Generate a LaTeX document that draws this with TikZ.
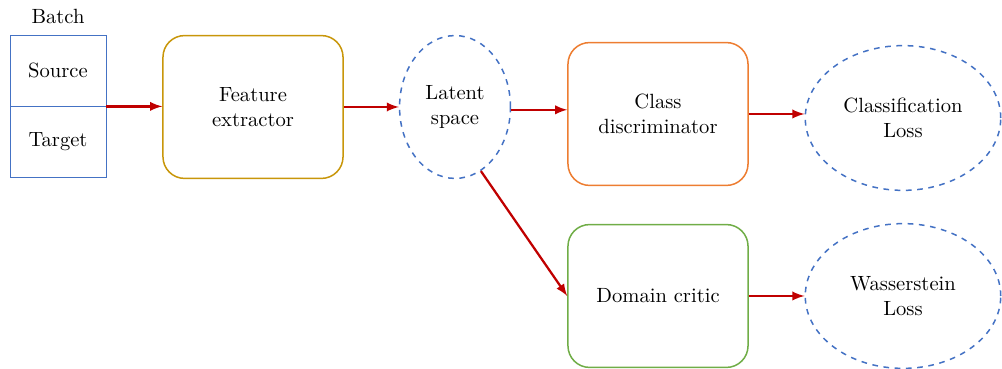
\documentclass[11pt,tikz,border=0pt]{standalone}
\usepackage{amsmath, amssymb}
\usepackage{tikz}
\usetikzlibrary{shapes.geometric}

\definecolor{batchblue}{HTML}{4472C4}
\definecolor{featgold}{HTML}{C8960A}
\definecolor{classorange}{HTML}{ED7D31}
\definecolor{criticgreen}{HTML}{70AD47}
\definecolor{arrowred}{HTML}{C00000}

\begin{document}
\begin{tikzpicture}[x=0.532pt, y=-0.532pt,
    cell/.style={draw=batchblue, minimum width=51pt, minimum height=37.8pt, inner sep=0pt},
    block/.style={draw, thick, rounded corners=11.5pt, minimum width=95.8pt, minimum height=76pt, align=center},
    cloud/.style={draw=batchblue, thick, dashed, ellipse, inner sep=0pt, align=center},
    flow/.style={draw=arrowred, very thick, -latex}]
    \useasboundingbox (0,0) rectangle (1002,369);

    % batch of source and target samples
    \node (batch) at (58,16) {Batch};
    \node[cell] (source) at (58,70.5) {Source};
    \node[cell] (target) at (58,142) {Target};

    \node[block, draw=featgold] (feat) at (253,107) {Feature\\extractor};
    \node[cloud, minimum width=59pt, minimum height=76pt] (latent) at (455,107) {Latent\\space};
    \node[block, draw=classorange] (class) at (658,114) {Class\\discriminator};
    \node[cloud, minimum width=104pt, minimum height=77pt] (closs) at (903,118) {Classification\\Loss};
    \node[block, draw=criticgreen] (critic) at (658,296) {Domain critic};
    \node[cloud, minimum width=104pt, minimum height=77pt] (wloss) at (903,296) {Wasserstein\\Loss};

    \draw[flow] (source.south east) -- (source.south east -| feat.west);
    \draw[flow] (feat.east) -- (latent.west);
    \draw[flow] ([yshift=-1.5pt]latent.east) -- ([yshift=-1.5pt]latent.east -| class.west);
    \draw[flow] (class.east) -- (class.east -| closs.west);
    \draw[flow] (latent.-68) -- (critic.west);
    \draw[flow] (critic.east) -- (wloss.west);
\end{tikzpicture}
\end{document}
